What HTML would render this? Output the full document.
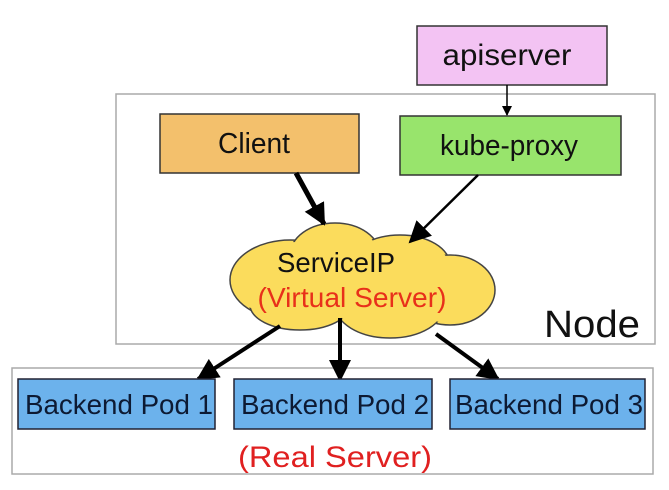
<!DOCTYPE html>
<html><head><style>
html,body{margin:0;padding:0;background:#fff;}
svg{display:block;font-family:"Liberation Sans",sans-serif;}
</style></head><body>
<svg width="669" height="490" viewBox="0 0 669 490">
<defs>
<marker id="ah" markerWidth="10" markerHeight="10" refX="9" refY="5" orient="auto" markerUnits="userSpaceOnUse" viewBox="0 0 10 10">
<path d="M0,0 L10,5 L0,10 z" fill="#000"/></marker>
<marker id="ab" markerWidth="22" markerHeight="22" refX="20" refY="11" orient="auto" markerUnits="userSpaceOnUse" viewBox="0 0 22 22">
<path d="M0,0 L22,11 L0,22 z" fill="#000"/></marker>
</defs>
<rect x="116" y="94" width="539" height="250" fill="#fff" stroke="#aaa" stroke-width="1.5"/>
<rect x="12" y="368" width="641" height="106" fill="#fff" stroke="#aaa" stroke-width="1.5"/>
<rect x="417" y="26" width="190" height="59" fill="#f3c3f3" stroke="#333" stroke-width="1.5"/>
<text x="507" y="65" font-size="30" text-anchor="middle" fill="#111" textLength="129" lengthAdjust="spacingAndGlyphs">apiserver</text>
<rect x="160" y="114" width="199" height="59" fill="#f3c06c" stroke="#333" stroke-width="1.5"/>
<text x="254" y="153" font-size="29" text-anchor="middle" fill="#111" textLength="72" lengthAdjust="spacingAndGlyphs">Client</text>
<rect x="400" y="116" width="221" height="59" fill="#98e46c" stroke="#333" stroke-width="1.5"/>
<text x="509" y="155" font-size="29" text-anchor="middle" fill="#111" textLength="138" lengthAdjust="spacingAndGlyphs">kube-proxy</text>
<line x1="507" y1="85" x2="507" y2="115" stroke="#000" stroke-width="1.5" marker-end="url(#ah)"/>
<g fill="#fbdc5c" stroke="#444" stroke-width="1.5">
<ellipse cx="290" cy="280" rx="60" ry="40"/>
<ellipse cx="335" cy="255" rx="45" ry="32"/>
<ellipse cx="400" cy="265" rx="50" ry="30"/>
<ellipse cx="450" cy="290" rx="45" ry="35"/>
<ellipse cx="390" cy="305" rx="55" ry="33"/>
<ellipse cx="300" cy="305" rx="50" ry="25"/>
</g>
<g fill="#fbdc5c">
<ellipse cx="290" cy="280" rx="58" ry="38"/>
<ellipse cx="335" cy="255" rx="43" ry="30"/>
<ellipse cx="400" cy="265" rx="48" ry="28"/>
<ellipse cx="450" cy="290" rx="43" ry="33"/>
<ellipse cx="390" cy="305" rx="53" ry="31"/>
<ellipse cx="300" cy="305" rx="48" ry="23"/>
<rect x="290" y="260" width="150" height="50"/>
</g>
<text x="336" y="272" font-size="28" text-anchor="middle" fill="#111" textLength="118" lengthAdjust="spacingAndGlyphs">ServiceIP</text>
<text x="352" y="307" font-size="28" text-anchor="middle" fill="#e8301a" textLength="189" lengthAdjust="spacingAndGlyphs">(Virtual Server)</text>
<text x="592" y="337" font-size="38" text-anchor="middle" fill="#111" textLength="96" lengthAdjust="spacingAndGlyphs">Node</text>
<line x1="296" y1="173" x2="324" y2="224" stroke="#000" stroke-width="5" marker-end="url(#ab)"/>
<line x1="478" y1="175" x2="410" y2="242" stroke="#000" stroke-width="2.5" marker-end="url(#ab)"/>
<line x1="280" y1="326" x2="198" y2="379" stroke="#000" stroke-width="4" marker-end="url(#ab)"/>
<line x1="340" y1="318" x2="340" y2="380" stroke="#000" stroke-width="4" marker-end="url(#ab)"/>
<line x1="436" y1="334" x2="498" y2="379" stroke="#000" stroke-width="4" marker-end="url(#ab)"/>
<g fill="#6cb2ec" stroke="#223" stroke-width="1.5">
<rect x="18" y="379" width="197" height="50"/>
<rect x="234" y="379" width="198" height="50"/>
<rect x="450" y="379" width="195" height="50"/>
</g>
<g font-size="28" text-anchor="middle" fill="#0d1a33">
<text x="119" y="414" textLength="188" lengthAdjust="spacingAndGlyphs">Backend Pod 1</text>
<text x="335" y="414" textLength="188" lengthAdjust="spacingAndGlyphs">Backend Pod 2</text>
<text x="549" y="414" textLength="188" lengthAdjust="spacingAndGlyphs">Backend Pod 3</text>
</g>
<text x="335" y="467" font-size="30" text-anchor="middle" fill="#e02020" textLength="194" lengthAdjust="spacingAndGlyphs">(Real Server)</text>
</svg>
</body></html>
